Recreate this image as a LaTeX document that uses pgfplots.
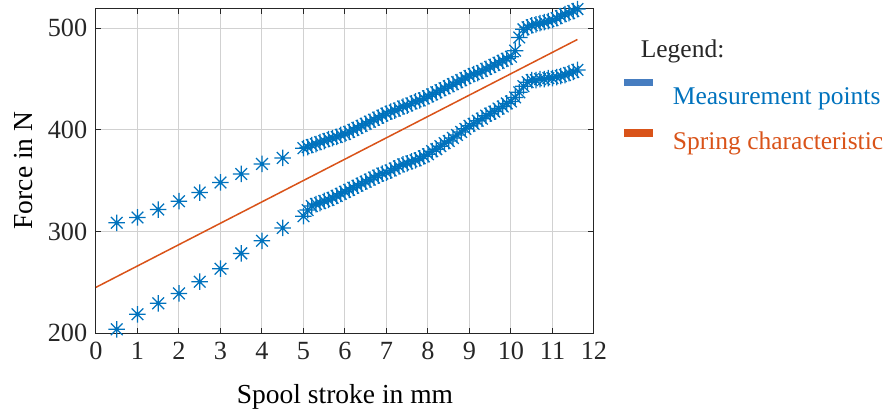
\documentclass[border=0pt]{standalone}
\usepackage{fontspec}
\setmainfont{Liberation Serif}
\usepackage{pgfplots}
\usepackage{pgfplotstable}
\pgfplotsset{compat=1.18}

\definecolor{mblue}{RGB}{0,114,189}
\definecolor{morange}{RGB}{217,83,25}
\definecolor{axgray}{RGB}{38,38,38}
\definecolor{legblue}{RGB}{70,125,192}

% MATLAB style '*' marker: plus and cross on top of each other
\pgfdeclareplotmark{mstar}{%
  \pgfpathmoveto{\pgfqpoint{-\pgfplotmarksize}{0pt}}%
  \pgfpathlineto{\pgfqpoint{\pgfplotmarksize}{0pt}}%
  \pgfpathmoveto{\pgfqpoint{0pt}{-\pgfplotmarksize}}%
  \pgfpathlineto{\pgfqpoint{0pt}{\pgfplotmarksize}}%
  \pgfpathmoveto{\pgfqpoint{-0.707\pgfplotmarksize}{-0.707\pgfplotmarksize}}%
  \pgfpathlineto{\pgfqpoint{0.707\pgfplotmarksize}{0.707\pgfplotmarksize}}%
  \pgfpathmoveto{\pgfqpoint{-0.707\pgfplotmarksize}{0.707\pgfplotmarksize}}%
  \pgfpathlineto{\pgfqpoint{0.707\pgfplotmarksize}{-0.707\pgfplotmarksize}}%
  \pgfusepathqstroke}

% measured force, loading (upper) and unloading (lower) branch
\pgfplotstableread{
x y
0.5 308.5
1.0 313.8
1.5 321.6
2.0 329.8
2.5 338.3
3.0 348.2
3.5 356.6
4.0 366.5
4.5 372.4
5.0 382
5.1 383
5.2 385
5.3 386
5.4 388
5.5 389
5.6 391
5.7 392
5.8 393
5.9 395
6.0 396
6.1 398
6.2 400
6.3 402
6.4 404
6.5 406
6.6 408
6.7 410
6.8 412
6.9 414
7.0 416
7.1 418
7.2 419
7.3 421
7.4 423
7.5 424
7.6 426
7.7 428
7.8 429
7.9 431
8.0 433
8.1 435
8.2 437
8.3 439
8.4 441
8.5 443
8.6 445
8.7 447
8.8 449
8.9 451
9.0 453
9.1 455
9.2 456
9.3 458
9.4 460
9.5 462
9.6 464
9.7 466
9.8 468
9.9 470
10.0 472
10.1 478
10.2 491
10.3 499
10.4 501
10.5 503
10.6 504
10.7 505
10.8 506
10.9 507
11.0 508
11.1 510
11.2 512
11.3 514
11.4 515
11.5 517
11.6 519
}\upperdata

\pgfplotstableread{
x y
0.5 203.6
1.0 218.4
1.5 229.2
2.0 239.0
2.5 250.5
3.0 263.3
3.5 278.4
4.0 290.8
4.5 303.5
5.0 315
5.1 321
5.2 325
5.3 327
5.4 328
5.5 330
5.6 331
5.7 333
5.8 335
5.9 337
6.0 339
6.1 341
6.2 343
6.3 345
6.4 347
6.5 349
6.6 351
6.7 353
6.8 355
6.9 357
7.0 358
7.1 360
7.2 362
7.3 364
7.4 366
7.5 367
7.6 369
7.7 370
7.8 372
7.9 374
8.0 376
8.1 379
8.2 381
8.3 384
8.4 387
8.5 389
8.6 392
8.7 395
8.8 398
8.9 401
9.0 404
9.1 406
9.2 409
9.3 411
9.4 414
9.5 416
9.6 418
9.7 421
9.8 423
9.9 426
10.0 428
10.1 432
10.2 437
10.3 443
10.4 447
10.5 449
10.6 449
10.7 450
10.8 450
10.9 451
11.0 451
11.1 452
11.2 453
11.3 454
11.4 456
11.5 457
11.6 459
}\lowerdata

\begin{document}
\begin{tikzpicture}
% page = 884 x 410 px at 0.4pt per px, axis box starts at px (96,333)
\path[use as bounding box] (-38.4pt,-30.8pt) rectangle (315.2pt,133.2pt);
\begin{axis}[
  at={(0,0)}, anchor=south west,
  scale only axis,
  width=199.2pt, height=130pt,
  xmin=0, xmax=12, ymin=200, ymax=520,
  xtick={0,1,...,12},
  ytick={200,300,400,500},
  tick align=inside,
  major tick length=2.2pt,
  tick style={axgray, line width=0.4pt},
  axis line style={axgray, line width=0.4pt},
  grid=major,
  grid style={black!18, line width=0.4pt},
  /pgf/number format/assume math mode=true,
  ticklabel style={font=\rmfamily\fontsize{10.5}{12}\selectfont, text=axgray},
  xlabel={Spool stroke in mm},
  ylabel={Force in N},
  label style={font=\rmfamily\fontsize{11}{13}\selectfont},
  xlabel style={yshift=-3pt},
  ylabel style={yshift=-1pt},
  legend style={draw=none, fill=none, at={(1.044,0.80)}, anchor=north west,
    font=\rmfamily\fontsize{10.2}{12}\selectfont, row sep=5.6pt,
    /tikz/every even column/.append style={column sep=0pt}},
  legend cell align=left,
  clip=false,
]
\addplot[only marks, mark=mstar, mark size=3.3pt, mblue, line width=0.5pt,
  legend image code/.code={\path (0pt,0pt) (17pt,0pt);
    \fill[legblue] (0pt,5pt) rectangle (11.2pt,7.4pt);}]
  table[x=x, y=y] {\upperdata};
\addlegendentry{\textcolor{mblue}{Measurement points}}
\addplot[only marks, mark=mstar, mark size=3.3pt, mblue, line width=0.5pt, forget plot]
  table[x=x, y=y] {\lowerdata};
\addplot[morange, line width=0.6pt, no markers,
  legend image code/.code={\path (0pt,0pt) (17pt,0pt);
    \fill[morange] (0pt,2.5pt) rectangle (11.2pt,5.3pt);}]
  coordinates {(0,245) (11.6,489)};
\addlegendentry{\textcolor{morange}{Spring characteristic}}
\end{axis}
\node[anchor=base west, font=\rmfamily\fontsize{10.2}{12}\selectfont, text=black!85]
  at (214.4pt,110.4pt) {Legend:};
\end{tikzpicture}
\end{document}
